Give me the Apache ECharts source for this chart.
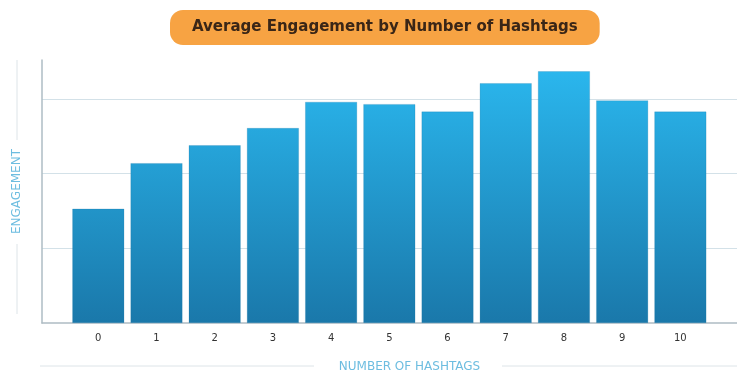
<!DOCTYPE html>
<html>
<head>
<meta charset="utf-8">
<script src="https://cdn.jsdelivr.net/npm/echarts@6/dist/echarts.min.js"></script>
<style>
  html, body { margin: 0; padding: 0; background: #fff; }
  #chart { width: 737px; height: 374px; }
</style>
</head>
<body>
<div id="chart"></div>
<script>
// data
var hashtags = [0, 1, 2, 3, 4, 5, 6, 7, 8, 9, 10];
var engagement = [1.53, 2.14, 2.38, 2.61, 2.96, 2.93, 2.83, 3.21, 3.37, 2.98, 2.83];

var myChart = echarts.init(document.getElementById('chart'));

var option = {
    animation: false,
    title: {
        text: 'Average Engagement by Number of Hashtags',
        left: 170,
        top: 10,
        padding: [8, 22],
        backgroundColor: '#f7a343',
        borderRadius: 13,
        textStyle: {
            fontFamily: 'DejaVu Sans',
            fontWeight: 'bold',
            fontSize: 15,
            lineHeight: 19,
            color: '#3a2617'
        }
    },
    grid: {
        left: 42,
        right: 0,
        top: 60,
        bottom: 51,
        outerBoundsMode: 'none',
        containLabel: false
    },
    xAxis: {
        type: 'value',
        min: -0.967,
        max: 10.973,
        name: 'NUMBER OF HASHTAGS',
        nameLocation: 'middle',
        nameGap: 38,
        nameTextStyle: {
            fontFamily: 'DejaVu Sans',
            fontSize: 12,
            color: '#6dbde0',
            padding: [0, 0, 0, 40]
        },
        axisLine: { show: true, onZero: false, lineStyle: { color: '#aebcc4', width: 1.5 } },
        axisTick: { show: false },
        splitLine: { show: false },
        axisLabel: {
            customValues: hashtags,
            margin: 10,
            fontFamily: 'DejaVu Sans',
            fontSize: 10,
            color: '#333333',
            formatter: function (v) { return String(Math.round(v)); }
        }
    },
    yAxis: {
        type: 'value',
        min: 0,
        max: 3.52,
        interval: 1,
        name: 'ENGAGEMENT',
        nameLocation: 'middle',
        nameGap: 19,
        nameTextStyle: {
            fontFamily: 'DejaVu Sans',
            fontSize: 12,
            color: '#6dbde0'
        },
        axisLine: { show: true, onZero: false, lineStyle: { color: '#aebcc4', width: 1.5 } },
        axisTick: { show: false },
        axisLabel: { show: false },
        splitLine: {
            show: true,
            showMinLine: false,
            showMaxLine: false,
            lineStyle: { color: '#d3e1e8', width: 1.2 }
        }
    },
    graphic: [
        { type: 'line', shape: { x1: 17, y1: 60, x2: 17, y2: 140 }, style: { stroke: '#dde4e8', lineWidth: 1 } },
        { type: 'line', shape: { x1: 17, y1: 244, x2: 17, y2: 314 }, style: { stroke: '#dde4e8', lineWidth: 1 } },
        { type: 'line', shape: { x1: 40, y1: 366, x2: 314, y2: 366 }, style: { stroke: '#dde4e8', lineWidth: 1 } },
        { type: 'line', shape: { x1: 502, y1: 366, x2: 737, y2: 366 }, style: { stroke: '#dde4e8', lineWidth: 1 } }
    ],
    series: [
        {
            type: 'bar',
            barWidth: 52,
            data: hashtags.map(function (h, i) { return [h, engagement[i]]; }),
            itemStyle: {
                color: {
                    type: 'linear',
                    x: 0, y: 60, x2: 0, y2: 323,
                    global: true,
                    colorStops: [
                        { offset: 0, color: '#2bb9f0' },
                        { offset: 1, color: '#1a78aa' }
                    ]
                },
                borderColor: 'rgba(20,110,160,0.35)',
                borderWidth: 0.6
            }
        }
    ]
};

myChart.setOption(option);
</script>
</body>
</html>
